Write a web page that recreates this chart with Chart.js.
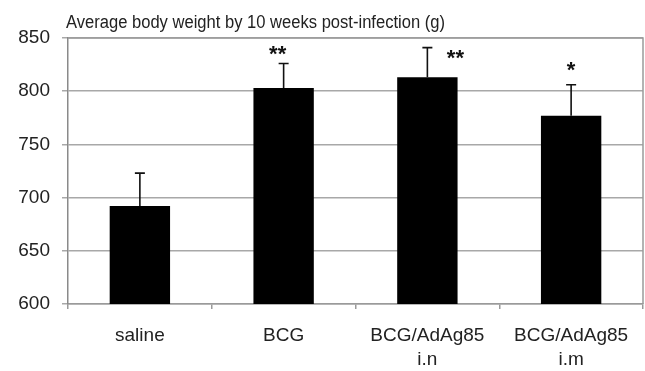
<!DOCTYPE html>
<html>
<head>
<meta charset="utf-8">
<script src="https://cdn.jsdelivr.net/npm/chart.js@4"></script>
<style>
  html, body { margin: 0; padding: 0; background: #fff; }
  #wrap { width: 645px; height: 371px; }
</style>
</head>
<body>
<div id="wrap"><canvas id="weightChart" width="645" height="371"></canvas></div>
<script>
// data
const groups = [['saline'], ['BCG'], ['BCG/AdAg85', 'i.n'], ['BCG/AdAg85', 'i.m']];
const meanWeight = [692, 803, 813, 777];
const errorUpper = [723, 826, 841, 806];
const significance = ['', '**', '**', '*'];
const yTicks = [600, 650, 700, 750, 800, 850];

const titleText = 'Average body weight by 10 weeks post-infection (g)';
const fontFamily = '"Liberation Sans", Arial, sans-serif';

// where each star sits relative to its error bar cap (px)
const starOffset = [null, { dx: -6, dy: -14 }, { dx: 28, dy: 6 }, { dx: 0, dy: -19 }];

const errorBarsPlugin = {
  id: 'errorBars',
  afterDatasetsDraw(chart) {
    const ctx = chart.ctx;
    const y = chart.scales.y;
    const meta = chart.getDatasetMeta(0);
    ctx.save();
    ctx.strokeStyle = '#111';
    ctx.lineWidth = 1.6;
    meta.data.forEach((bar, i) => {
      const top = y.getPixelForValue(errorUpper[i]);
      ctx.beginPath();
      ctx.moveTo(bar.x, bar.y);
      ctx.lineTo(bar.x, top);
      ctx.moveTo(bar.x - 5, top);
      ctx.lineTo(bar.x + 5, top);
      ctx.stroke();
    });
    ctx.restore();
  },
  afterDraw(chart) {
    const ctx = chart.ctx;
    const area = chart.chartArea;
    const y = chart.scales.y;
    const meta = chart.getDatasetMeta(0);
    ctx.save();
    // box round the plot (top + right)
    ctx.strokeStyle = '#9a9a9a';
    ctx.lineWidth = 1.5;
    ctx.beginPath();
    ctx.moveTo(area.left, area.top);
    ctx.lineTo(area.right, area.top);
    ctx.lineTo(area.right, area.bottom);
    ctx.stroke();

    // significance stars
    ctx.fillStyle = '#111';
    ctx.font = 'bold 22px ' + fontFamily;
    ctx.textAlign = 'center';
    ctx.textBaseline = 'middle';
    meta.data.forEach((bar, i) => {
      if (!significance[i]) return;
      const top = y.getPixelForValue(errorUpper[i]);
      const off = starOffset[i];
      ctx.fillText(significance[i], bar.x + off.dx, top + off.dy + 5);
    });

    // title (squeezed a bit to match the narrow look of the original)
    ctx.font = '18px ' + fontFamily;
    ctx.textAlign = 'left';
    ctx.textBaseline = 'alphabetic';
    ctx.fillStyle = '#222';
    const w = ctx.measureText(titleText).width;
    ctx.translate(66, 28);
    ctx.scale(379 / w, 1);
    ctx.fillText(titleText, 0, 0);
    ctx.restore();
  }
};

new Chart(document.getElementById('weightChart'), {
  type: 'bar',
  data: {
    labels: groups,
    datasets: [{
      data: meanWeight,
      backgroundColor: '#000',
      borderWidth: 0,
      categoryPercentage: 1,
      barPercentage: 0.42
    }]
  },
  options: {
    responsive: false,
    animation: false,
    layout: { padding: { top: 38, right: 2, left: 0, bottom: 0 } },
    plugins: { legend: { display: false }, tooltip: { enabled: false }, title: { display: false } },
    scales: {
      x: {
        afterFit(scale) { scale.height = 67; },
        grid: { drawOnChartArea: false, drawTicks: true, tickLength: 5, offset: true, color: '#9a9a9a', lineWidth: 1.5 },
        border: { color: '#9a9a9a', width: 1.5 },
        ticks: { color: '#222', padding: 15, maxRotation: 0, font: { family: fontFamily, size: 19, lineHeight: 1.263 } }
      },
      y: {
        min: 600,
        max: 850,
        afterBuildTicks(scale) { scale.ticks = yTicks.map(v => ({ value: v })); },
        afterFit(scale) { scale.width = 68; },
        grid: { color: '#a8a8a8', lineWidth: 1.5, tickLength: 6 },
        border: { color: '#8a8a8a', width: 1.5 },
        ticks: { color: '#222', padding: 12, font: { family: fontFamily, size: 19 } }
      }
    }
  },
  plugins: [errorBarsPlugin]
});
</script>
</body>
</html>
